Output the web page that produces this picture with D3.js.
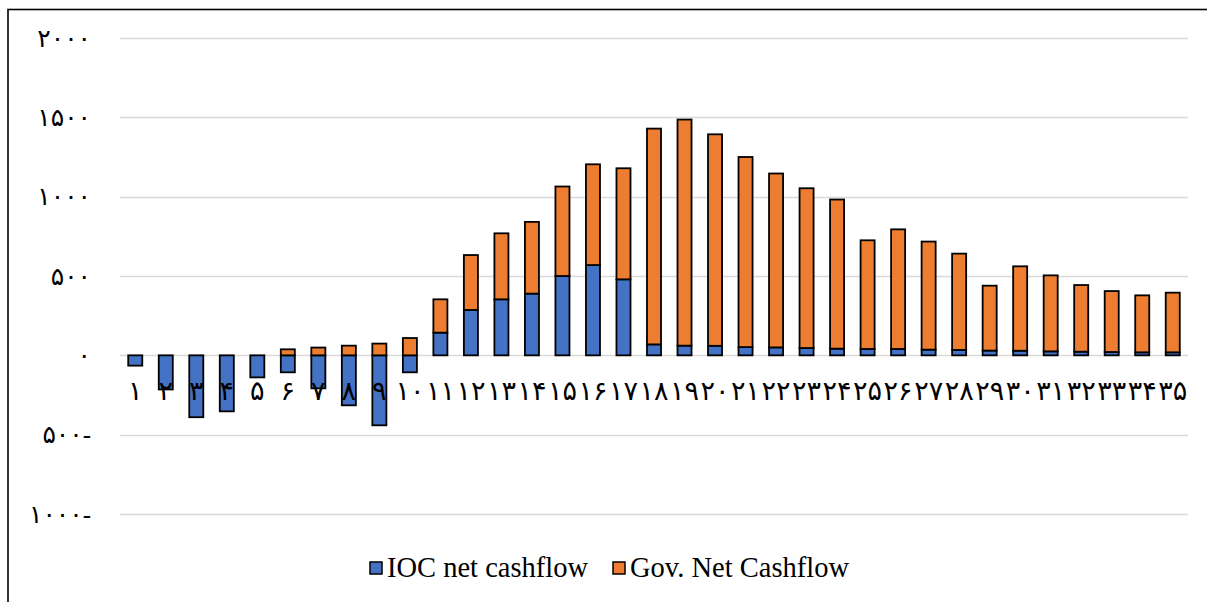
<!DOCTYPE html>
<html>
<head>
<meta charset="utf-8">
<script src="https://cdn.jsdelivr.net/npm/d3@7/dist/d3.min.js"></script>
<style>
  html, body { margin: 0; padding: 0; background: #fff; }
  svg { display: block; }
</style>
</head>
<body>
<svg id="chart" width="1207" height="602"></svg>
<script>
// Year index labels (Persian digits)
const categories = ["۱","۲","۳","۴","۵","۶","۷","۸","۹","۱۰","۱۱","۱۲","۱۳","۱۴","۱۵","۱۶","۱۷","۱۸","۱۹","۲۰","۲۱","۲۲","۲۳","۲۴","۲۵","۲۶","۲۷","۲۸","۲۹","۳۰","۳۱","۳۲","۳۳","۳۴","۳۵"];

// IOC net cashflow per year
const iocValues = [-65, -215, -390, -353, -139, -107, -208, -315, -441, -107,
  143, 286, 353, 389, 500, 569, 479, 69, 61, 60,
  52, 50, 46, 42, 40, 40, 36, 34, 30, 29,
  25, 23, 21, 19, 19];

// Government net cashflow per year
const govValues = [0, 0, 0, 0, 0, 38, 49, 61, 74, 109,
  210, 346, 416, 452, 564, 635, 700, 1360, 1425, 1333,
  1198, 1096, 1007, 940, 685, 754, 681, 607, 409, 532,
  479, 420, 384, 359, 376];

const yTicks = [-1000, -500, 0, 500, 1000, 1500, 2000];
const yTickLabels = ["۱۰۰۰-", "۵۰۰-", "۰", "۵۰۰", "۱۰۰۰", "۱۵۰۰", "۲۰۰۰"];

const seriesNames = ["IOC net cashflow", "Gov. Net Cashflow"];
const seriesColors = ["#4472C4", "#ED7D31"];

const svg = d3.select("#chart");

// outer frame
svg.append("rect")
  .attr("x", 8).attr("y", 9.5)
  .attr("width", 1260).attr("height", 640)
  .attr("fill", "none").attr("stroke", "#000").attr("stroke-width", 1.6);

const plot = { left: 120, right: 1188, top: 38, bottom: 514 };

const x = d3.scaleBand()
  .domain(categories)
  .range([plot.left, plot.right])
  .paddingInner(0.54)
  .paddingOuter(0.27);

const y = d3.scaleLinear()
  .domain([-1000, 2000])
  .range([plot.bottom, plot.top]);

// gridlines
svg.append("g")
  .selectAll("line")
  .data(yTicks)
  .join("line")
  .attr("x1", plot.left).attr("x2", plot.right)
  .attr("y1", d => Math.round(y(d)) + 0.5).attr("y2", d => Math.round(y(d)) + 0.5)
  .attr("stroke", "#d9d9d9").attr("stroke-width", 1.5);

// y axis labels
const yAxis = d3.axisLeft(y)
  .tickValues(yTicks)
  .tickSize(0)
  .tickPadding(0)
  .tickFormat((d, i) => yTickLabels[i]);

svg.append("g")
  .attr("transform", "translate(91,0)")
  .call(yAxis)
  .call(g => g.select(".domain").remove())
  .call(g => g.selectAll("text")
    .attr("font-family", "'Liberation Serif', 'DejaVu Sans', serif")
    .attr("font-size", 25)
    .attr("fill", "#000"));

// stacked bars: positives stack upward from zero, negatives downward
const stacks = categories.map((c, i) => {
  const vals = [iocValues[i], govValues[i]];
  let pos = 0, neg = 0;
  return vals.map((v, s) => {
    let y0, y1;
    if (v >= 0) { y0 = pos; y1 = pos + v; pos = y1; }
    else { y0 = neg; y1 = neg + v; neg = y1; }
    return { cat: c, series: s, y0, y1, v };
  });
});

const barG = svg.append("g");
stacks.forEach(stack => {
  stack.filter(d => d.v !== 0).forEach(d => {
    barG.append("rect")
      .attr("x", x(d.cat))
      .attr("width", x.bandwidth())
      .attr("y", y(Math.max(d.y0, d.y1)))
      .attr("height", Math.abs(y(d.y0) - y(d.y1)))
      .attr("fill", seriesColors[d.series])
      .attr("stroke", "#000")
      .attr("stroke-width", 1.8);
  });
});

// category labels below the zero line
const xAxis = d3.axisBottom(x).tickSize(0).tickPadding(0);
svg.append("g")
  .attr("transform", `translate(0,${y(0) + 25})`)
  .call(xAxis)
  .call(g => g.select(".domain").remove())
  .call(g => g.selectAll("text")
    .attr("font-family", "'Liberation Serif', 'DejaVu Sans', serif")
    .attr("font-size", 27)
    .attr("fill", "#000"));

// legend
const legend = svg.append("g").attr("transform", "translate(370,568)");
const legendX = [0, 243];
seriesNames.forEach((name, i) => {
  const g = legend.append("g").attr("transform", `translate(${legendX[i]},0)`);
  g.append("rect")
    .attr("x", 0).attr("y", -6)
    .attr("width", 12).attr("height", 12)
    .attr("fill", seriesColors[i])
    .attr("stroke", "#000").attr("stroke-width", 1.5);
  g.append("text")
    .attr("x", 17).attr("y", 9)
    .attr("font-family", "'Liberation Serif', 'Times New Roman', serif")
    .attr("font-size", 28.5)
    .attr("fill", "#000")
    .text(name);
});
</script>
</body>
</html>
